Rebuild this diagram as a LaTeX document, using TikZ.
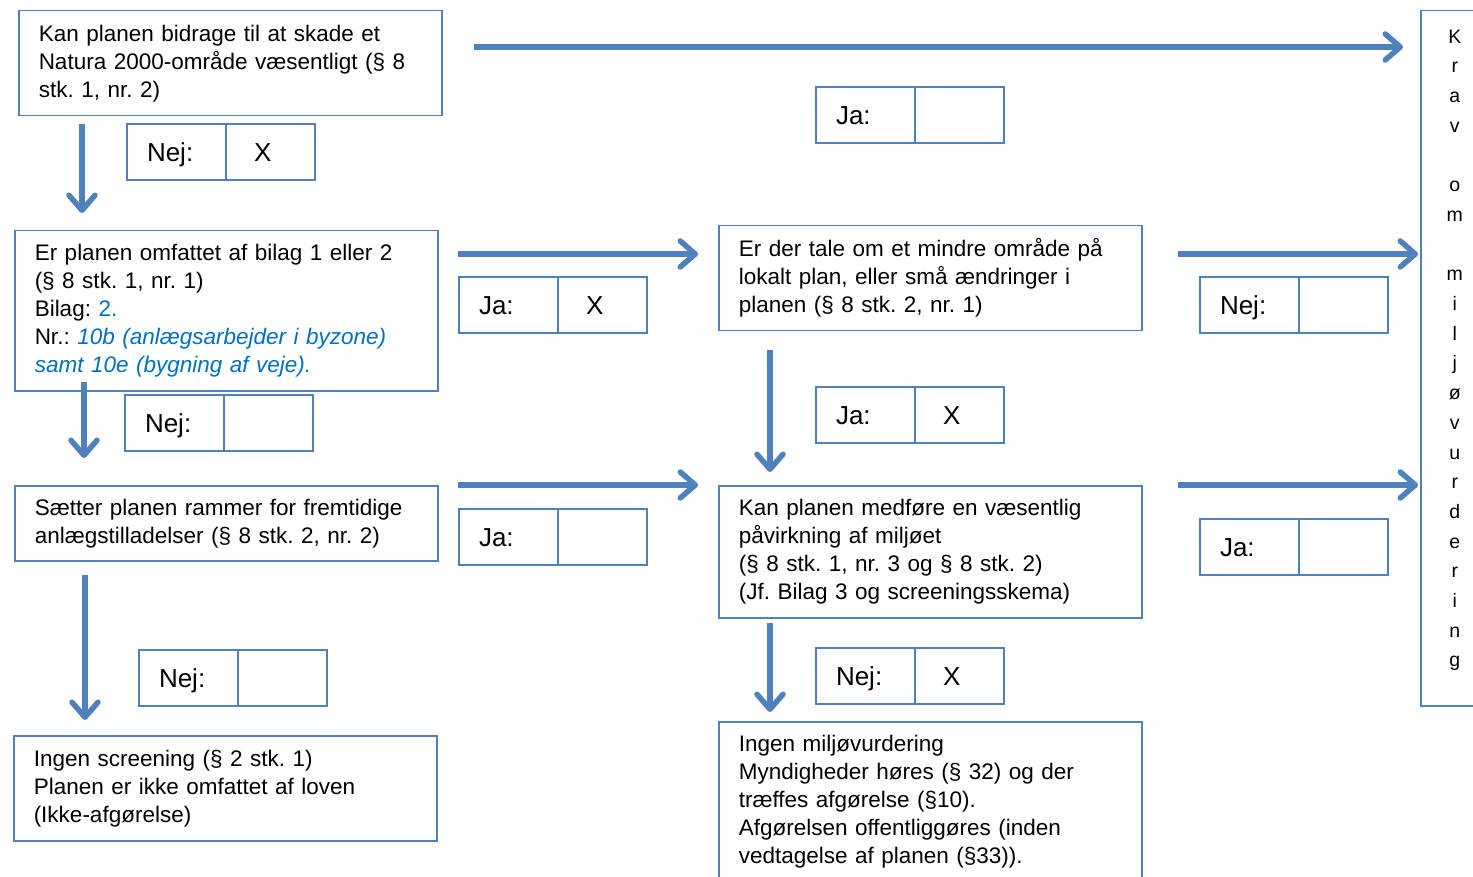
\documentclass[tikz,border=0pt]{standalone}
\usepackage{fontspec}
\setmainfont{Liberation Sans}
\usetikzlibrary{arrows.meta,positioning}
\definecolor{rammeblaa}{HTML}{4F81BD}
\definecolor{tekstblaa}{HTML}{0070C0}
\tikzset{
  boks/.style={draw=rammeblaa, line width=1.5pt, anchor=north west, align=left,
    inner xsep=20pt, inner ysep=0pt, font=\fontsize{22.5}{28}\selectfont\frenchspacing},
  svar/.style={draw=rammeblaa, line width=1.5pt, outer sep=0pt, anchor=north west,
    minimum height=56pt, text width=59pt, inner xsep=20pt, inner ysep=0pt,
    text height=18.6pt, text depth=0pt, align=left, font=\fontsize{26}{30}\selectfont},
  kryds/.style={draw=rammeblaa, line width=1.5pt, outer sep=0pt, minimum height=56pt,
    text width=33pt, inner xsep=28pt, inner ysep=0pt, text height=18.6pt, text depth=0pt,
    align=left, font=\fontsize{26}{30}\selectfont},
  pil/.style={draw=rammeblaa, line width=5.5pt, -{Straight Barb[length=15pt,width=26pt,round]}}
}

\begin{document}
\begin{tikzpicture}[x=1pt,y=-1pt]
\useasboundingbox (0,0) rectangle (1473,877);

% boksene
\node[boks, text width=383pt, minimum height=105pt] (natura) at (18,10)
  {Kan planen bidrage til at skade et\\ Natura 2000-område væsentligt (§ 8\\ stk. 1, nr. 2)};
\node[boks, text width=383pt, minimum height=160pt] (bilag) at (14,230)
  {Er planen omfattet af bilag 1 eller 2\\ (§ 8 stk. 1, nr. 1)\\ Bilag: {\color{tekstblaa}2.}\\
   Nr.: {\color{tekstblaa}\itshape 10b (anlægsarbejder i byzone)}\\
   {\color{tekstblaa}\itshape samt 10e (bygning af veje).}};
\node[boks, text width=383pt, minimum height=75pt] (rammer) at (14,485)
  {Sætter planen rammer for fremtidige\\ anlægstilladelser (§ 8 stk. 2, nr. 2)};
\node[boks, text width=383pt, minimum height=105pt] (ingenscr) at (13,735)
  {Ingen screening (§ 2 stk. 1)\\ Planen er ikke omfattet af loven\\ (Ikke-afgørelse)};
\node[boks, text width=383pt, minimum height=105pt] (mindre) at (718,225)
  {Er der tale om et mindre område på\\ lokalt plan, eller små ændringer i\\ planen (§ 8 stk. 2, nr. 1)};
\node[boks, text width=383pt, minimum height=132pt] (paavirk) at (718,485)
  {Kan planen medføre en væsentlig\\ påvirkning af miljøet\\ (§ 8 stk. 1, nr. 3 og § 8 stk. 2)\\ (Jf. Bilag 3 og screeningsskema)};
\node[boks, text width=383pt, minimum height=160pt] (ingenmv) at (718,721)
  {Ingen miljøvurdering\\ Myndigheder høres (§ 32) og der\\ træffes afgørelse (§10).\\ Afgørelsen offentliggøres (inden\\ vedtagelse af planen (§33)).};
\node[boks, text width=28pt, minimum height=695pt, align=center,
  font=\fontsize{19.5}{29.7}\selectfont] (krav) at (1420,10)
  {K\\r\\a\\v\\[29.7pt]o\\m\\[29.7pt]m\\i\\l\\j\\ø\\v\\u\\r\\d\\e\\r\\i\\n\\g\\[-10pt]\mbox{}};

% svarfelter
\node[svar] (nejA) at (127,124) {Nej:};
\node[kryds, right=0pt of nejA] (nejAx) {X};
\node[svar] (nejB) at (125,395) {Nej:};
\node[kryds, right=0pt of nejB] (nejBx) {};
\node[svar] (nejC) at (139,650) {Nej:};
\node[kryds, right=0pt of nejC] (nejCx) {};
\node[svar] (jaA) at (816,87) {Ja:};
\node[kryds, right=0pt of jaA] (jaAx) {};
\node[svar] (jaB) at (459,277) {Ja:};
\node[kryds, right=0pt of jaB] (jaBx) {X};
\node[svar] (nejE) at (1200,277) {Nej:};
\node[kryds, right=0pt of nejE] (nejEx) {};
\node[svar] (jaE) at (816,387) {Ja:};
\node[kryds, right=0pt of jaE] (jaEx) {X};
\node[svar] (jaC) at (459,509) {Ja:};
\node[kryds, right=0pt of jaC] (jaCx) {};
\node[svar] (jaF) at (1200,519) {Ja:};
\node[kryds, right=0pt of jaF] (jaFx) {};
\node[svar] (nejF) at (816,648) {Nej:};
\node[kryds, right=0pt of nejF] (nejFx) {X};

% pilene
\coordinate (top1) at (474,47);   \coordinate (top2) at (1403,47);
\coordinate (ned1a) at (82,124);  \coordinate (ned1b) at (82,213);
\coordinate (ned2a) at (84,382);  \coordinate (ned2b) at (84,458);
\coordinate (ned3a) at (85,575);  \coordinate (ned3b) at (85,720);
\coordinate (hoj1a) at (458,254); \coordinate (hoj1b) at (698,254);
\coordinate (hoj2a) at (458,485); \coordinate (hoj2b) at (698,485);
\coordinate (hoj3a) at (1178,254); \coordinate (hoj3b) at (1418,254);
\coordinate (hoj4a) at (1178,485); \coordinate (hoj4b) at (1418,485);
\coordinate (ned4a) at (770,350); \coordinate (ned4b) at (770,472);
\coordinate (ned5a) at (770,623); \coordinate (ned5b) at (770,712);

\draw[pil] (top1) -- (top2);
\draw[pil] (ned1a) -- (ned1b);
\draw[pil] (ned2a) -- (ned2b);
\draw[pil] (ned3a) -- (ned3b);
\draw[pil] (hoj1a) -- (hoj1b);
\draw[pil] (hoj2a) -- (hoj2b);
\draw[pil] (hoj3a) -- (hoj3b);
\draw[pil] (hoj4a) -- (hoj4b);
\draw[pil] (ned4a) -- (ned4b);
\draw[pil] (ned5a) -- (ned5b);
\end{tikzpicture}
\end{document}
